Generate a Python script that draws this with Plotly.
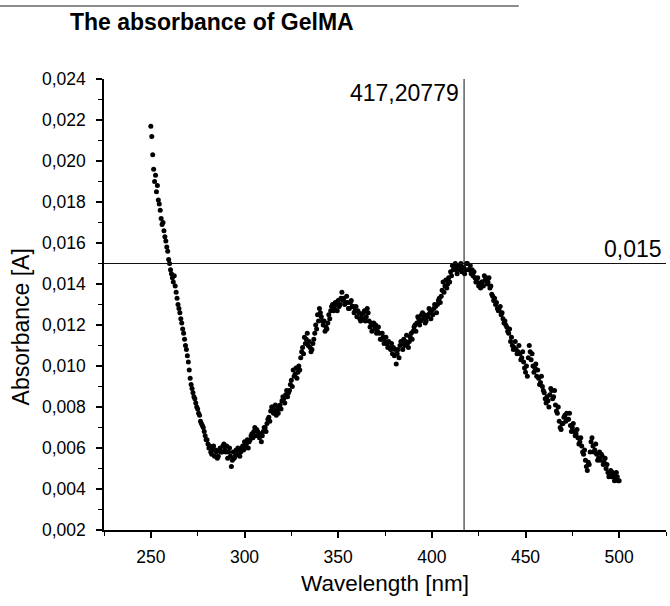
import plotly.graph_objects as go

# Absorbance read at whole nanometres (250 ... 500 nm)
absorbance_whole_nm = [
    0.0217, 0.0203, 0.0190, 0.0185, 0.0181, 0.0176, 0.0169, 0.0166, 0.0161, 0.0156,
    0.0150, 0.0145, 0.0141, 0.0139, 0.0133, 0.0128, 0.0123, 0.0118, 0.0113, 0.0108,
    0.0102, 0.0094, 0.0089, 0.0085, 0.0082, 0.0079, 0.0076, 0.0072, 0.0070, 0.0066,
    0.0064, 0.0060, 0.0058, 0.0059, 0.0056, 0.0058, 0.0056, 0.0060, 0.0058, 0.0062,
    0.0058, 0.0055, 0.0060, 0.0051, 0.0058, 0.0056, 0.0057, 0.0059, 0.0058, 0.0061,
    0.0063, 0.0062, 0.0060, 0.0064, 0.0067, 0.0068, 0.0066, 0.0068, 0.0065, 0.0063,
    0.0068, 0.0070, 0.0072, 0.0075, 0.0078, 0.0080, 0.0078, 0.0076, 0.0077, 0.0081,
    0.0083, 0.0084, 0.0086, 0.0085, 0.0088, 0.0093, 0.0098, 0.0096, 0.0094, 0.0100,
    0.0104, 0.0109, 0.0114, 0.0113, 0.0110, 0.0109, 0.0108, 0.0113, 0.0120, 0.0125,
    0.0128, 0.0124, 0.0120, 0.0117, 0.0118, 0.0125, 0.0127, 0.0130, 0.0128, 0.0130,
    0.0132, 0.0130, 0.0136, 0.0133, 0.0131, 0.0131, 0.0128, 0.0132, 0.0129, 0.0127,
    0.0124, 0.0126, 0.0122, 0.0123, 0.0127, 0.0124, 0.0126, 0.0119, 0.0117, 0.0121,
    0.0120, 0.0117, 0.0116, 0.0113, 0.0114, 0.0112, 0.0111, 0.0112, 0.0108, 0.0106,
    0.0105, 0.0101, 0.0108, 0.0110, 0.0111, 0.0113, 0.0112, 0.0111, 0.0112, 0.0116,
    0.0117, 0.0120, 0.0121, 0.0123, 0.0122, 0.0126, 0.0125, 0.0122, 0.0125, 0.0126,
    0.0127, 0.0128, 0.0129, 0.0130, 0.0133, 0.0134, 0.0141, 0.0139, 0.0138, 0.0143,
    0.0146, 0.0149, 0.0148, 0.0147, 0.0149, 0.0147, 0.0146, 0.0148, 0.0147, 0.0150,
    0.0147, 0.0145, 0.0144, 0.0143, 0.0141, 0.0139, 0.0138, 0.0141, 0.0144, 0.0143,
    0.0141, 0.0138, 0.0135, 0.0132, 0.0130, 0.0128, 0.0127, 0.0125, 0.0123, 0.0122,
    0.0119, 0.0116, 0.0112, 0.0110, 0.0109, 0.0108, 0.0107, 0.0106, 0.0104, 0.0102,
    0.0097, 0.0095, 0.0110, 0.0103, 0.0100, 0.0099, 0.0095, 0.0094, 0.0092, 0.0090,
    0.0087, 0.0082, 0.0083, 0.0086, 0.0088, 0.0085, 0.0081, 0.0077, 0.0073, 0.0069,
    0.0072, 0.0076, 0.0077, 0.0074, 0.0071, 0.0070, 0.0068, 0.0067, 0.0065, 0.0063,
    0.0061, 0.0057, 0.0054, 0.0049, 0.0052, 0.0063, 0.0061, 0.0059, 0.0057, 0.0055,
    0.0054, 0.0056, 0.0053, 0.0050, 0.0048, 0.0047, 0.0046, 0.0047, 0.0045, 0.0046,
    0.0044,
]

# Absorbance read at the half nanometres (250.5 ... 499.5 nm)
absorbance_half_nm = [
    0.0212, 0.0196, 0.0193, 0.0188, 0.0179, 0.0172, 0.0170, 0.0163, 0.0158, 0.0152,
    0.0147, 0.0143, 0.0144, 0.0136, 0.0130, 0.0126, 0.0121, 0.0116, 0.0110, 0.0105,
    0.0098, 0.0091, 0.0087, 0.0084, 0.0080, 0.0077, 0.0073, 0.0071, 0.0068, 0.0064,
    0.0062, 0.0061, 0.0057, 0.0061, 0.0059, 0.0055, 0.0059, 0.0058, 0.0061, 0.0059,
    0.0061, 0.0058, 0.0056, 0.0054, 0.0055, 0.0059, 0.0060, 0.0056, 0.0060, 0.0059,
    0.0060, 0.0064, 0.0063, 0.0066, 0.0065, 0.0070, 0.0069, 0.0066, 0.0067, 0.0066,
    0.0070, 0.0068, 0.0074, 0.0073, 0.0080, 0.0077, 0.0081, 0.0079, 0.0080, 0.0079,
    0.0085, 0.0082, 0.0088, 0.0087, 0.0091, 0.0090, 0.0095, 0.0099, 0.0097, 0.0098,
    0.0107, 0.0106, 0.0111, 0.0116, 0.0112, 0.0107, 0.0111, 0.0116, 0.0118, 0.0122,
    0.0126, 0.0122, 0.0122, 0.0119, 0.0121, 0.0123, 0.0129, 0.0127, 0.0131, 0.0127,
    0.0129, 0.0133, 0.0132, 0.0130, 0.0134, 0.0128, 0.0131, 0.0129, 0.0126, 0.0129,
    0.0127, 0.0123, 0.0125, 0.0126, 0.0122, 0.0128, 0.0122, 0.0121, 0.0120, 0.0118,
    0.0116, 0.0119, 0.0113, 0.0116, 0.0111, 0.0114, 0.0109, 0.0109, 0.0111, 0.0109,
    0.0108, 0.0106, 0.0104, 0.0112, 0.0108, 0.0110, 0.0115, 0.0109, 0.0114, 0.0113,
    0.0119, 0.0117, 0.0124, 0.0120, 0.0125, 0.0123, 0.0121, 0.0124, 0.0128, 0.0123,
    0.0125, 0.0130, 0.0126, 0.0132, 0.0131, 0.0137, 0.0136, 0.0142, 0.0140, 0.0141,
    0.0144, 0.0147, 0.0150, 0.0145, 0.0148, 0.0150, 0.0148, 0.0145, 0.0150, 0.0147,
    0.0149, 0.0147, 0.0146, 0.0141, 0.0143, 0.0140, 0.0141, 0.0139, 0.0142, 0.0140,
    0.0143, 0.0139, 0.0134, 0.0133, 0.0131, 0.0127, 0.0129, 0.0126, 0.0121, 0.0120,
    0.0117, 0.0118, 0.0114, 0.0108, 0.0112, 0.0106, 0.0110, 0.0103, 0.0107, 0.0099,
    0.0100, 0.0104, 0.0107, 0.0106, 0.0097, 0.0101, 0.0098, 0.0091, 0.0095, 0.0088,
    0.0084, 0.0085, 0.0080, 0.0089, 0.0084, 0.0088, 0.0078, 0.0080, 0.0070, 0.0072,
    0.0075, 0.0073, 0.0074, 0.0077, 0.0068, 0.0072, 0.0066, 0.0069, 0.0062, 0.0065,
    0.0058, 0.0059, 0.0051, 0.0053, 0.0058, 0.0065, 0.0058, 0.0062, 0.0054, 0.0058,
    0.0057, 0.0052, 0.0055, 0.0052, 0.0046, 0.0049, 0.0048, 0.0044, 0.0048, 0.0044,
]

wavelength_whole_nm = [250 + i for i in range(len(absorbance_whole_nm))]
wavelength_half_nm = [250.5 + i for i in range(len(absorbance_half_nm))]

peak_x = 417.20779
peak_label = "417,20779"
level_y = 0.015
level_label = "0,015"
title_text = "The absorbance of GelMA"
x_title = "Wavelength [nm]"
y_title = "Absorbance [A]"

FONT = "Arial, Liberation Sans, sans-serif"

fig = go.Figure()
fig.add_trace(go.Scatter(
    x=wavelength_whole_nm + wavelength_half_nm,
    y=absorbance_whole_nm + absorbance_half_nm,
    mode="markers",
    marker=dict(color="black", size=5, symbol="circle"),
    showlegend=False, hoverinfo="skip",
))

fig.update_layout(
    width=670, height=606,
    margin=dict(l=104, r=4, t=79, b=76),
    paper_bgcolor="white", plot_bgcolor="white",
    separators=",.",
    font=dict(family=FONT, color="black"),
    xaxis=dict(
        range=[225, 525], tick0=0, dtick=50,
        showgrid=False, zeroline=False,
        showline=True, linecolor="black", linewidth=1.5,
        ticks="outside", ticklen=6, tickwidth=1.5, tickcolor="black",
        ticklabelstandoff=4,
        tickfont=dict(size=17.5, family=FONT, color="black"),
        minor=dict(dtick=25, tick0=0, ticks="outside", ticklen=4, tickwidth=1.2, tickcolor="black", showgrid=False),
    ),
    yaxis=dict(
        range=[0.002, 0.024], tick0=0, dtick=0.002, tickformat=".3f",
        showgrid=False, zeroline=False,
        showline=True, linecolor="black", linewidth=1.5,
        ticks="outside", ticklen=6, tickwidth=1.5, tickcolor="black",
        ticklabelstandoff=7,
        tickfont=dict(size=17.5, family=FONT, color="black"),
        minor=dict(dtick=0.001, tick0=0, ticks="outside", ticklen=4, tickwidth=1.2, tickcolor="black", showgrid=False),
    ),
    shapes=[
        dict(type="line", xref="x", yref="paper", x0=peak_x, x1=peak_x, y0=0, y1=1,
             line=dict(color="#111", width=1)),
        dict(type="line", xref="paper", yref="y", x0=0, x1=1, y0=level_y, y1=level_y,
             line=dict(color="#111", width=1)),
        dict(type="line", xref="paper", yref="paper", x0=-0.185, x1=0.738, y0=1.162, y1=1.162,
             line=dict(color="#666", width=1.5)),
    ],
    annotations=[
        dict(text="<b>" + title_text + "</b>", xref="paper", yref="paper",
             x=-0.064, y=1.126, xanchor="left", yanchor="middle", showarrow=False,
             font=dict(size=23, family=FONT, color="black")),
        dict(text=peak_label, xref="x", yref="paper", x=peak_x, y=0.969,
             xanchor="right", yanchor="middle", xshift=-3, showarrow=False,
             font=dict(size=23, family=FONT, color="black")),
        dict(text=level_label, xref="paper", yref="y", x=1, y=level_y,
             xanchor="right", yanchor="bottom", xshift=-2, yshift=0, showarrow=False,
             font=dict(size=23, family=FONT, color="black")),
        dict(text=x_title, xref="paper", yref="paper", x=0.5, y=-0.118,
             xanchor="center", yanchor="middle", showarrow=False,
             font=dict(size=22.5, family=FONT, color="black")),
        dict(text=y_title, xref="paper", yref="paper", x=-0.147, y=0.45,
             xanchor="center", yanchor="middle", textangle=-90, showarrow=False,
             font=dict(size=23, family=FONT, color="black")),
    ],
)

fig.write_html("out.html")
